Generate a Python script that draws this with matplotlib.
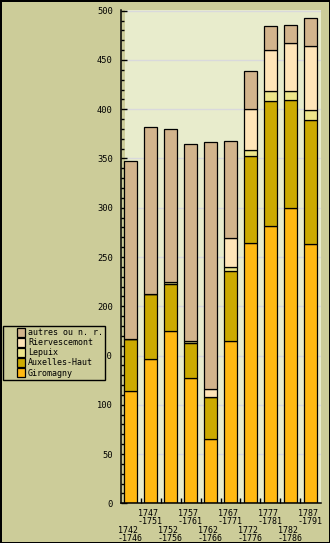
import numpy as np
import matplotlib.pyplot as plt
import matplotlib.patches as mpatches
from matplotlib.legend_handler import HandlerPatch

periods = ["1742\n-1746", "1747\n-1751", "1752\n-1756", "1757\n-1761", "1762\n-1766",
           "1767\n-1771", "1772\n-1776", "1777\n-1781", "1782\n-1786", "1787\n-1791"]

giromagny = [114, 146, 175, 127, 65, 165, 264, 281, 300, 263]
auxelles = [53, 66, 48, 36, 43, 71, 89, 127, 109, 126]
lepuix = [0, 0, 2, 2, 0, 4, 6, 10, 10, 10]
riervescemont = [0, 0, 0, 0, 8, 29, 41, 42, 48, 65]
autres = [180, 170, 155, 200, 251, 99, 39, 24, 18, 29]

series = [("Giromagny", giromagny, "#FFB912"),
          ("Auxelles-Haut", auxelles, "#CCAA00"),
          ("Lepuix", lepuix, "#EEE68B"),
          ("Riervescemont", riervescemont, "#FFE5B8"),
          ("autres ou n. r.", autres, "#D2B48C")]

OLIVE = "#CCCC99"
LIGHT = "#E8ECCC"
FONT = "DejaVu Sans Mono"
plt.rcParams['font.family'] = FONT
plt.rcParams['font.size'] = 6

fig = plt.figure(figsize=(3.3, 5.43), dpi=100)
fig.patch.set_facecolor(OLIVE)
fig.patch.set_edgecolor("black")
fig.patch.set_linewidth(2)

ax = fig.add_axes([0.3667, 0.0731, 0.606, 0.909])
ax.set_facecolor(OLIVE)
x = np.arange(len(periods))
ax.set_xlim(-0.475, 9.525)
ax.set_ylim(0, 501)

# light plot background, leaving a small gap next to the axis
ax.axvspan(-0.275, 9.525, color=LIGHT, zorder=0, lw=0)
ax.set_yticks(np.arange(0, 501, 50))
ax.set_yticks(np.arange(0, 501, 10), minor=True)
ax.hlines(np.arange(50, 501, 50), -0.275, 9.525, color="#D9D9DC", lw=1, zorder=1)

bottom = np.zeros(len(periods))
handles = []
for name, vals, col in series:
    vals = np.array(vals)
    ax.bar(x, vals, 0.62, bottom=bottom, color=col, edgecolor="black", lw=0.9, zorder=3)
    bottom += vals
    handles.append(mpatches.Patch(facecolor=col, edgecolor="black", lw=0.9, label=name))

for s in ["top", "right"]:
    ax.spines[s].set_visible(False)
for s in ["left", "bottom"]:
    ax.spines[s].set_linewidth(1.1)
    ax.spines[s].set_zorder(5)

ax.tick_params(axis="y", which="major", direction="in", length=4, width=1, pad=6, labelsize=6.3)
ax.tick_params(axis="y", which="minor", direction="in", length=2.5, width=1)

ax.set_xticks(x)
ax.set_xticklabels(periods, multialignment="left", linespacing=0.85)
ax.set_xticks(x[:-1] + 0.5, minor=True)
ax.tick_params(axis="x", which="major", length=0, pad=4, labelsize=6)
ax.tick_params(axis="x", which="minor", direction="in", length=3.5, width=1)
for i, lab in enumerate(ax.get_xticklabels()):
    if i % 2 == 0:
        lab.set_y(-0.034)


def square(legend, orig_handle, xdescent, ydescent, width, height, fontsize):
    return mpatches.Rectangle((width - height - xdescent, -ydescent), height, height)


leg = fig.legend(handles[::-1], [h.get_label() for h in handles[::-1]],
                 loc="upper left", bbox_to_anchor=(0.009, 0.3996), fontsize=6,
                 handlelength=2.4, handleheight=1.2, labelspacing=0.12,
                 handletextpad=0.35, borderpad=0.25, borderaxespad=0,
                 fancybox=False, framealpha=1, facecolor=OLIVE, edgecolor="black",
                 handler_map={mpatches.Patch: HandlerPatch(patch_func=square)})
leg.get_frame().set_linewidth(1)

fig.savefig("out.png", dpi=100, facecolor=OLIVE, edgecolor="black")
